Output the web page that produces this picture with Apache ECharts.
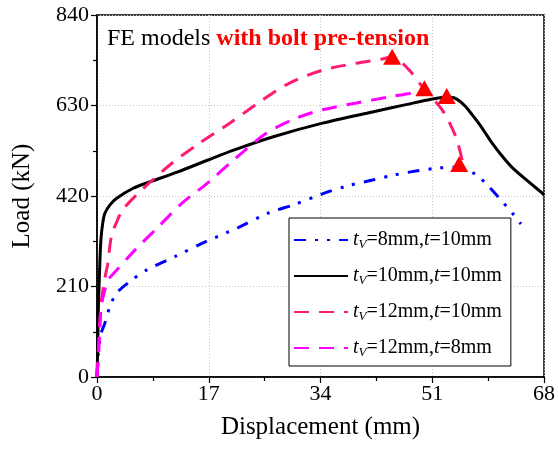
<!DOCTYPE html>
<html>
<head>
<meta charset="utf-8">
<script src="https://cdn.jsdelivr.net/npm/echarts@6/dist/echarts.min.js"></script>
<style>
html,body{margin:0;padding:0;background:#fff;}
#c{width:558px;height:450px;}
</style>
</head>
<body>
<div id="c"></div>
<script>
// Axis ticks
const xTicks = [0, 17, 34, 51, 68];
const yTicks = [0, 210, 420, 630, 840];

// Series names
const seriesNames = ['tV=8mm,t=10mm', 'tV=10mm,t=10mm', 'tV=12mm,t=10mm', 'tV=12mm,t=8mm'];

// tV=8mm, t=10mm  [displacement, load]
const tv8_t10 = [[0,0],[0.2,55],[0.6,100],[1.2,125],[2,165],[3,195],[5.3,225],[7.5,248],[11.8,279],[16.4,313],[21.4,346],[26,380],[30,400],[34.3,425],[38,443],[41.9,457],[45,468],[48.5,478],[52,485],[55,487],[57.7,469],[59.4,445],[61.2,415],[63.2,380],[64.5,355]];

// tV=10mm, t=10mm
const tv10_t10 = [[0,0],[0.1,60],[0.2,155],[0.4,250],[0.6,320],[0.9,360],[1.2,380],[2,400],[3,415],[5.5,438],[7.5,450],[12.3,476],[16.8,503],[20.9,527],[26.7,557],[34.3,589],[41.9,615],[47,632],[51,645],[53.3,650],[54.3,648],[55.2,640],[56.1,627],[57,610],[58,590],[59,568],[60,545],[61.5,515],[63.1,487],[65.5,455],[67.7,427],[68,422]];

// tV=12mm, t=10mm
const tv12_t10 = [[0,0],[0.2,60],[0.4,120],[0.7,180],[1.2,230],[1.6,260],[2.2,327],[3,360],[4,390],[7.3,441],[11.4,496],[15.6,543],[20.2,589],[25.2,643],[29.3,682],[34.3,712],[39.4,728],[43.4,738],[44.9,743],[47.5,712],[49.5,673],[52.5,620],[54.6,557],[55.6,500]];

// tV=12mm, t=8mm
const tv12_t8 = [[0,0],[0.2,40],[0.4,100],[0.6,160],[1,190],[1.7,225],[2.7,243],[5.8,295],[9.3,348],[12.9,403],[16.8,450],[20.9,505],[25.8,566],[30.4,601],[34.3,620],[39.5,636],[44.5,650],[48.6,661],[49.8,667]];

// Peak / failure markers
const peaks = [[44.9,743],[49.8,670],[53.2,652],[55.1,494]];

const serif = '"Liberation Serif","DejaVu Serif",serif';

const legendRich = {
  i: {fontFamily: serif, fontSize: 20, fontStyle: 'italic', color: '#000', lineHeight: 22},
  s: {fontFamily: serif, fontSize: 13, fontStyle: 'italic', color: '#000', lineHeight: 14, padding: [9,0,0,0]},
  n: {fontFamily: serif, fontSize: 20, color: '#000', lineHeight: 22}
};
function legendText(name) {
  const m = name.match(/^tV=(\d+mm),t=(\d+mm)$/);
  return '{i|t}{s|V}{n|=' + m[1] + ',}{i|t}{n|=' + m[2] + '}';
}

const chart = echarts.init(document.getElementById('c'), null, {renderer: 'canvas'});
const axisLabelStyle = {fontFamily: serif, fontSize: 22, color: '#000'};

chart.setOption({
  animation: false,
  backgroundColor: '#fff',
  title: {
    left: 102, top: 22,
    text: '{a|FE models }{b|with bolt pre-tension}',
    textStyle: {
      fontWeight: 'normal',
      rich: {
        a: {fontFamily: serif, fontSize: 24, fontWeight: 'normal', color: '#000'},
        b: {fontFamily: serif, fontSize: 24, fontWeight: 'bold', color: '#ff0000'}
      }
    }
  },
  grid: {left: 97, right: 13, top: 15, bottom: 73, show: true, borderColor: '#000', borderWidth: 1.5, containLabel: false},
  legend: {
    left: 289, top: 218,
    orient: 'vertical',
    data: seriesNames,
    backgroundColor: '#fff',
    borderColor: '#000', borderWidth: 1,
    padding: [11, 9, 7, 4],
    itemWidth: 54, itemHeight: 12, itemGap: 14,
    formatter: legendText,
    textStyle: {rich: legendRich, padding: [0,0,0,0]},
    itemStyle: {opacity: 0},
    selectedMode: false
  },
  xAxis: {
    type: 'value', min: xTicks[0], max: xTicks[xTicks.length-1], interval: 17,
    name: 'Displacement (mm)', nameLocation: 'middle', nameGap: 38,
    nameTextStyle: {fontFamily: serif, fontSize: 25, color: '#000'},
    axisLine: {show: true, onZero: false, lineStyle: {color: '#000', width: 1.5}},
    axisTick: {show: true, inside: false, length: 6, lineStyle: {color: '#000', width: 1.2}},
    minorTick: {show: true, splitNumber: 2, length: 4, lineStyle: {color: '#000', width: 1.2}},
    axisLabel: Object.assign({margin: 6}, axisLabelStyle),
    splitLine: {show: true, lineStyle: {color: '#c8c8c8', type: [1,2], width: 1}}
  },
  yAxis: {
    type: 'value', min: yTicks[0], max: yTicks[yTicks.length-1], interval: 210,
    name: 'Load (kN)', nameLocation: 'middle', nameGap: 62,
    nameTextStyle: {fontFamily: serif, fontSize: 25, color: '#000'},
    axisLine: {show: true, onZero: false, lineStyle: {color: '#000', width: 1.5}},
    axisTick: {show: true, inside: false, length: 6, lineStyle: {color: '#000', width: 1.2}},
    minorTick: {show: true, splitNumber: 2, length: 4, lineStyle: {color: '#000', width: 1.2}},
    axisLabel: Object.assign({margin: 8}, axisLabelStyle),
    splitLine: {show: true, lineStyle: {color: '#c8c8c8', type: [1,2], width: 1}}
  },
  series: [
    {name: seriesNames[0], type: 'line', data: tv8_t10, symbol: 'none', smooth: 0.3,
     lineStyle: {color: '#0000ff', width: 3, type: [12,9,3,9,3,9]}, itemStyle: {color: '#0000ff'}, z: 3},
    {name: seriesNames[1], type: 'line', data: tv10_t10, symbol: 'none', smooth: 0.3,
     lineStyle: {color: '#000000', width: 3, type: 'solid'}, itemStyle: {color: '#000'}, z: 4},
    {name: seriesNames[2], type: 'line', data: tv12_t10, symbol: 'none', smooth: 0.3,
     lineStyle: {color: '#ff1a75', width: 3, type: [15,10]}, itemStyle: {color: '#ff1a75'}, z: 5},
    {name: seriesNames[3], type: 'line', data: tv12_t8, symbol: 'none', smooth: 0.3,
     lineStyle: {color: '#ff00ff', width: 3, type: [15,10]}, itemStyle: {color: '#ff00ff'}, z: 5},
    {name: 'peaks', type: 'scatter', data: peaks, symbol: 'triangle', symbolSize: [18,16],
     itemStyle: {color: '#ff0000', opacity: 1}, z: 10}
  ]
});
</script>
</body>
</html>
